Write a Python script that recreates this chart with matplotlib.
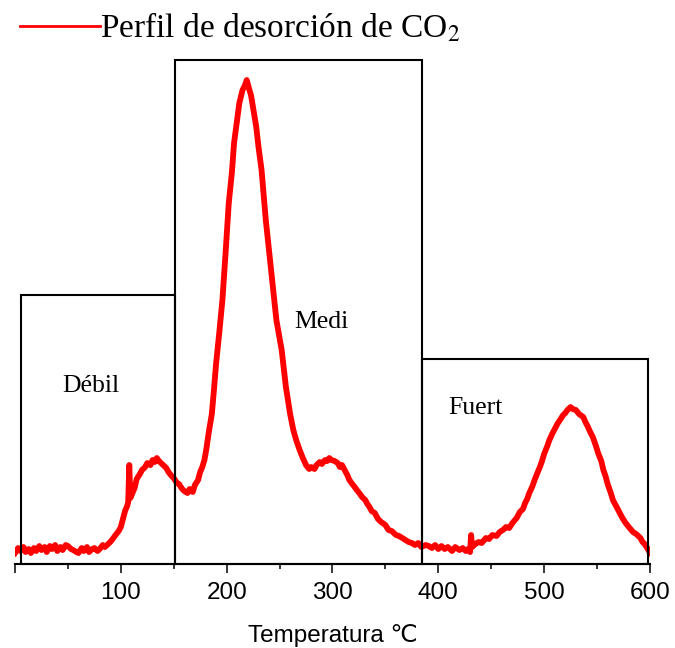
import matplotlib
matplotlib.use("Agg")
import matplotlib.pyplot as plt
from matplotlib.patches import Rectangle
from matplotlib.lines import Line2D

# CO2 TPD desorption profile (arbitrary intensity units)
temp = [0, 3, 5, 8, 10, 13, 15, 18, 20, 23,
        25, 28, 30, 33, 35, 38, 40, 43, 45, 48,
        50, 53, 55, 58, 60, 63, 65, 68, 70, 73,
        75, 78, 80, 83, 85, 88, 90, 93, 95, 98,
        100, 102, 104, 106, 107, 108, 109, 111, 113, 115,
        118, 120, 123, 125, 128, 130, 132, 134, 136, 138,
        141, 143, 145, 148, 150, 153, 155, 158, 160, 163,
        165, 168, 170, 173, 175, 177, 179, 181, 183, 186,
        188, 190, 193, 196, 199, 202, 205, 207, 210, 212,
        215, 217, 219, 221, 223, 225, 228, 230, 233, 237,
        240, 242, 245, 247, 250, 252, 254, 256, 260, 263,
        266, 269, 272, 275, 278, 280, 283, 285, 288, 290,
        293, 295, 297, 299, 302, 305, 307, 309, 312, 314,
        316, 318, 321, 323, 326, 328, 331, 333, 335, 337,
        340, 343, 346, 350, 353, 356, 360, 363, 366, 369,
        372, 375, 378, 381, 384, 388, 391, 394, 397, 400,
        403, 406, 409, 413, 416, 420, 423, 426, 428, 430,
        431, 432, 435, 438, 441, 445, 448, 451, 455, 458,
        461, 464, 467, 470, 474, 477, 480, 482, 484, 486,
        489, 491, 494, 496, 498, 500, 503, 505, 508, 510,
        513, 515, 518, 520, 522, 525, 527, 530, 533, 537,
        539, 541, 544, 546, 549, 551, 554, 556, 558, 560,
        563, 565, 568, 571, 574, 577, 580, 584, 587, 591,
        593, 595, 598, 600]
signal = [11, 16, 13, 17, 12, 15, 11, 16, 13, 18,
          14, 17, 12, 18, 15, 19, 13, 17, 14, 19,
          18, 15, 14, 12, 11, 16, 13, 17, 12, 15,
          16, 13, 15, 19, 17, 20, 22, 26, 29, 33,
          37, 45, 53, 58, 62, 99, 66, 71, 76, 85,
          90, 94, 97, 101, 99, 104, 102, 106, 103, 101,
          98, 96, 92, 88, 86, 81, 80, 75, 73, 71,
          75, 72, 79, 84, 92, 97, 104, 116, 131, 150,
          174, 200, 231, 264, 311, 361, 392, 421, 445, 461,
          474, 478, 484, 476, 469, 456, 437, 418, 394, 344,
          314, 294, 264, 244, 226, 214, 195, 177, 150, 134,
          123, 114, 106, 99, 95, 97, 95, 99, 102, 100,
          104, 103, 106, 104, 103, 101, 97, 99, 93, 89,
          84, 81, 77, 74, 70, 67, 64, 60, 57, 53,
          51, 45, 42, 39, 34, 33, 29, 28, 26, 24,
          22, 21, 19, 21, 17, 19, 18, 16, 19, 15,
          18, 15, 17, 13, 17, 14, 16, 13, 15, 12,
          29, 17, 20, 22, 21, 26, 25, 29, 28, 32,
          34, 37, 36, 41, 46, 52, 55, 61, 65, 71,
          78, 84, 92, 97, 103, 110, 118, 124, 131, 135,
          141, 144, 149, 151, 154, 157, 155, 154, 150, 147,
          142, 138, 131, 127, 118, 111, 103, 94, 88, 80,
          71, 64, 58, 52, 46, 41, 37, 32, 30, 26,
          22, 20, 15, 11]

xticks = [0, 100, 200, 300, 400, 500, 600]
xtick_labels = ["", "100", "200", "300", "400", "500", "600"]

# site-strength regions: (label, T start, T end, box height, text x, text y)
regions = [("Débil", 6, 151, 269, 45, 172),
           ("Medi", 151, 385, 504, 264, 236),
           ("Fuert", 385, 598, 205, 409, 150)]

RED = "#ff0000"
SERIF = ["Liberation Serif", "DejaVu Serif"]
SANS = ["Liberation Sans", "DejaVu Sans"]
plt.rcParams.update({"mathtext.fontset": "stix"})

fig = plt.figure(figsize=(6.75, 6.48), dpi=100)
ax = fig.add_axes([0.0222, 0.1296, 0.9407, 0.787])

ax.plot(temp, signal, color=RED, lw=4.2, solid_joinstyle="round", zorder=2)

for name, x0, x1, h, tx, ty in regions:
    ax.add_patch(Rectangle((x0, 0), x1 - x0, h, fill=False, edgecolor="black",
                           lw=1.5, zorder=3, clip_on=False))
    ax.text(tx, ty, name, family=SERIF, fontsize=18.5, ha="left", va="baseline")

ax.set_xlim(0, 600)
ax.set_ylim(0, 510)
for s in ("left", "top", "right"):
    ax.spines[s].set_visible(False)
ax.spines["bottom"].set_linewidth(1.5)
ax.set_yticks([])
ax.set_xticks(xticks)
ax.set_xticklabels(xtick_labels, family=SANS, fontsize=17.5)
ax.set_xticks(range(50, 600, 100), minor=True)
ax.tick_params(axis="x", which="major", length=6.7, width=1.1, pad=6.5, direction="out")
ax.tick_params(axis="x", which="minor", length=3.6, width=1.1, direction="out")
ax.set_xlabel("Temperatura ℃", family=SANS, fontsize=17.5, labelpad=14)

proxy = Line2D([], [], color=RED, lw=2)
fig.legend(handles=[proxy], labels=["Perfil de desorción de CO$_2$"],
           loc="upper left", bbox_to_anchor=(0.0296, 0.983), frameon=False,
           handlelength=2.4, handletextpad=0, borderpad=0, borderaxespad=0,
           prop={"family": SERIF, "size": 24})

fig.savefig("out.png", dpi=100)
